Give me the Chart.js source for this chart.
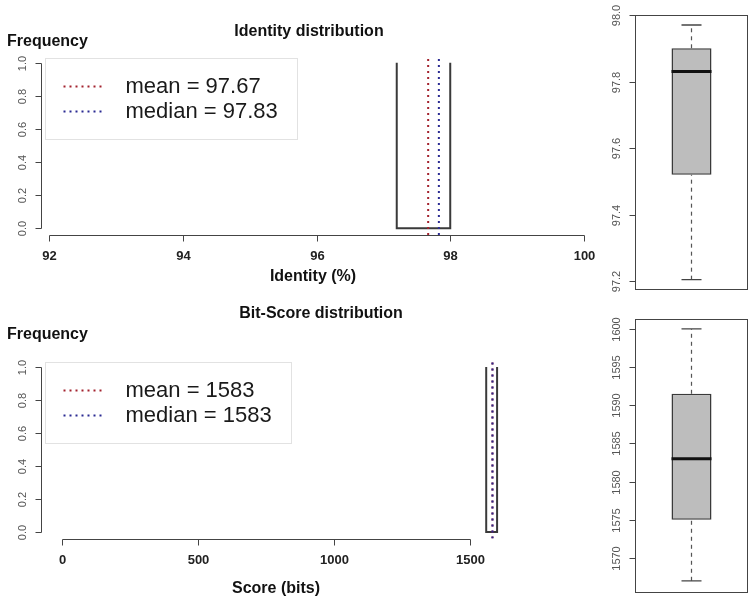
<!DOCTYPE html>
<html>
<head>
<meta charset="utf-8">
<script src="https://cdn.jsdelivr.net/npm/chart.js@4.4.1/dist/chart.umd.min.js"></script>
<style>
  body { margin: 0; background: #fff; }
  #page { position: relative; width: 755px; height: 598px; overflow: hidden; }
  canvas { position: absolute; }
</style>
</head>
<body>
<div id="page">
  <canvas id="identityHist" width="600" height="295" style="left:0;top:0"></canvas>
  <canvas id="scoreHist" width="600" height="298" style="left:0;top:300px"></canvas>
  <canvas id="identityBox" width="165" height="300" style="left:590px;top:0"></canvas>
  <canvas id="scoreBox" width="165" height="298" style="left:590px;top:300px"></canvas>
</div>
<script>
// Identity histogram
const identityBinEdges = [97.2, 98.0];
const identityCounts = [1.0];
const identityMean = 97.67;
const identityMedian = 97.83;
const identityXTicks = [92, 94, 96, 98, 100];
const identityXRange = [91.88, 100.12];

// Bit-score histogram
const scoreBinEdges = [1560, 1600];
const scoreCounts = [1.0];
const scoreMean = 1583;
const scoreMedian = 1583;
const scoreXTicks = [0, 500, 1000, 1500];
const scoreXRange = [-77, 1949];

const freqTicks = [0, 0.2, 0.4, 0.6, 0.8, 1.0];
const freqRange = [-0.04, 1.04];

// boxplots: min, q1, median, q3, max
const identityBoxStats = [97.205, 97.52, 97.83, 97.9, 97.97];
const identityBoxTicks = [97.2, 97.4, 97.6, 97.8, 98.0];
const identityBoxRange = [97.174, 98.0];
const scoreBoxStats = [1567, 1575, 1583, 1591.5, 1600];
const scoreBoxTicks = [1570, 1575, 1580, 1585, 1590, 1595, 1600];
const scoreBoxRange = [1565.4, 1601.3];

const MEAN_COL = '#a3222e';
const MEDIAN_COL = '#2a2a92';
const FONT = '"Liberation Sans", Arial, sans-serif';

// draws R-like axes, labels, frame and legend using the chart scales
function rStyle(cfg) {
  return {
    id: 'rStyle',
    afterDraw(chart) {
      const ctx = chart.ctx, a = chart.chartArea;
      const xs = chart.scales.x, ys = chart.scales.y;
      ctx.save();
      ctx.strokeStyle = '#444';
      ctx.lineWidth = 1;
      if (cfg.frame) {
        ctx.strokeRect(Math.round(a.left) + 0.5, Math.round(a.top) + 0.5,
          Math.round(a.right - a.left) - 1, Math.round(a.bottom - a.top) - 1);
      }
      // y axis
      const ax = Math.round(a.left) + 0.5;
      const yp = cfg.yTicks.map(v => Math.round(ys.getPixelForValue(v)) + 0.5);
      ctx.beginPath();
      if (!cfg.frame) { ctx.moveTo(ax, yp[0]); ctx.lineTo(ax, yp[yp.length - 1]); }
      yp.forEach(p => { ctx.moveTo(ax, p); ctx.lineTo(ax - 6, p); });
      ctx.stroke();
      ctx.fillStyle = '#555';
      ctx.font = '11px ' + FONT;
      ctx.textAlign = 'center';
      ctx.textBaseline = 'middle';
      cfg.yTicks.forEach((v, i) => {
        ctx.save();
        ctx.translate(ax - 19, yp[i]);
        ctx.rotate(-Math.PI / 2);
        ctx.fillText(v.toFixed(cfg.yDec), 0, 0);
        ctx.restore();
      });
      // x axis
      if (cfg.xTicks) {
        const ay = Math.round(a.bottom) + 0.5;
        const xp = cfg.xTicks.map(v => Math.round(xs.getPixelForValue(v)) + 0.5);
        ctx.beginPath();
        ctx.moveTo(xp[0], ay); ctx.lineTo(xp[xp.length - 1], ay);
        xp.forEach(p => { ctx.moveTo(p, ay); ctx.lineTo(p, ay + 6); });
        ctx.stroke();
        ctx.fillStyle = '#222';
        ctx.font = 'bold 13px ' + FONT;
        cfg.xTicks.forEach((v, i) => ctx.fillText(String(v), xp[i], ay + 21));
      }
      // titles
      ctx.fillStyle = '#111';
      ctx.font = 'bold 16px ' + FONT;
      (cfg.texts || []).forEach(t => {
        ctx.textAlign = t.align || 'center';
        ctx.fillText(t.text, t.x, t.y);
      });
      // legend
      if (cfg.legend) {
        const items = chart.data.datasets.filter(d => d.label);
        ctx.font = '22px ' + FONT;
        const tw = Math.max(...items.map(d => ctx.measureText(d.label).width));
        const bx = Math.round(a.left) + 4.5, by = Math.round(a.top) + 2.5;
        const bw = Math.round(80 + tw + 20), bh = 81;
        ctx.fillStyle = '#fff';
        ctx.fillRect(bx, by, bw, bh);
        ctx.strokeStyle = '#e2e2e2';
        ctx.strokeRect(bx, by, bw, bh);
        items.forEach((d, i) => {
          const yy = by + 28 + i * 25;
          ctx.setLineDash([2, 4]);
          ctx.strokeStyle = d.borderColor;
          ctx.lineWidth = 2;
          ctx.beginPath(); ctx.moveTo(bx + 18, yy); ctx.lineTo(bx + 56, yy); ctx.stroke();
          ctx.setLineDash([]);
          ctx.fillStyle = '#1a1a1a';
          ctx.textAlign = 'left';
          ctx.fillText(d.label, bx + 80, yy);
        });
      }
      ctx.restore();
    }
  };
}

function histChart(id, edges, counts, mean, median, xRange, xTicks, pad, texts) {
  const outline = counts.map((c, i) => ({
    type: 'scatter', showLine: true, order: 2,
    data: [{x: edges[i], y: c}, {x: edges[i], y: 0}, {x: edges[i + 1], y: 0}, {x: edges[i + 1], y: c}],
    borderColor: '#3a3a3a', borderWidth: 2, pointRadius: 0, borderJoinStyle: 'miter'
  }));
  const vline = (v, label, color, order) => ({
    label: label, showLine: true, order: order,
    data: [{x: v, y: freqRange[0]}, {x: v, y: freqRange[1]}],
    borderColor: color, borderWidth: 2, borderDash: [2, 4], pointRadius: 0
  });
  return new Chart(document.getElementById(id), {
    type: 'scatter',
    data: {
      datasets: [
        vline(mean, 'mean = ' + mean, MEAN_COL, 1),
        vline(median, 'median = ' + median, MEDIAN_COL, 0),
        ...outline
      ]
    },
    options: {
      responsive: false, animation: false, events: [],
      layout: { padding: pad, autoPadding: false },
      scales: {
        x: { type: 'linear', display: false, min: xRange[0], max: xRange[1] },
        y: { type: 'linear', display: false, min: freqRange[0], max: freqRange[1] }
      },
      plugins: { legend: { display: false }, tooltip: { enabled: false } }
    },
    plugins: [rStyle({ xTicks: xTicks, yTicks: freqTicks, yDec: 1, legend: true, texts: texts })]
  });
}

function boxChart(id, label, stats, range, ticks, dec, pad) {
  const [mn, q1, med, q3, mx] = stats;
  const pt = v => ({x: label, y: v});
  const whisker = (from, to) => ({
    type: 'line', order: 1, data: [pt(from), pt(to)],
    borderColor: '#555', borderWidth: 1.2, borderDash: [4, 4], pointRadius: 0
  });
  return new Chart(document.getElementById(id), {
    type: 'bar',
    data: {
      labels: [label],
      datasets: [
        { type: 'line', order: 0, data: [pt(med)], showLine: false, pointStyle: 'line',
          pointRadius: 20, pointBorderWidth: 3, pointBorderColor: '#111' },
        { type: 'line', order: 1, data: [pt(mn), pt(mx)], showLine: false, pointStyle: 'line',
          pointRadius: 10, pointBorderWidth: 1.3, pointBorderColor: '#444' },
        whisker(q3, mx),
        whisker(mn, q1),
        { type: 'bar', order: 2, data: [[q1, q3]], backgroundColor: '#bdbdbd',
          borderColor: '#3a3a3a', borderWidth: 1.5, borderSkipped: false,
          barPercentage: 0.354, categoryPercentage: 1 }
      ]
    },
    options: {
      responsive: false, animation: false, events: [],
      layout: { padding: pad, autoPadding: false },
      scales: {
        x: { display: false },
        y: { display: false, min: range[0], max: range[1] }
      },
      plugins: { legend: { display: false }, tooltip: { enabled: false } }
    },
    plugins: [rStyle({ yTicks: ticks, yDec: dec, frame: true })]
  });
}

histChart('identityHist', identityBinEdges, identityCounts, identityMean, identityMedian,
  identityXRange, identityXTicks, { left: 41, right: 8, top: 56, bottom: 60 },
  [
    { text: 'Identity distribution', x: 309, y: 32 },
    { text: 'Frequency', x: 7, y: 42, align: 'left' },
    { text: 'Identity (%)', x: 313, y: 277 }
  ]);

histChart('scoreHist', scoreBinEdges, scoreCounts, scoreMean, scoreMedian,
  scoreXRange, scoreXTicks, { left: 41, right: 8, top: 60.4, bottom: 59.4 },
  [
    { text: 'Bit-Score distribution', x: 321, y: 14 },
    { text: 'Frequency', x: 7, y: 35, align: 'left' },
    { text: 'Score (bits)', x: 276, y: 289 }
  ]);

boxChart('identityBox', 'Identity', identityBoxStats, identityBoxRange, identityBoxTicks, 1,
  { left: 45, right: 7, top: 15, bottom: 10 });
boxChart('scoreBox', 'Bit-Score', scoreBoxStats, scoreBoxRange, scoreBoxTicks, 0,
  { left: 45, right: 7, top: 19, bottom: 5 });
</script>
</body>
</html>
